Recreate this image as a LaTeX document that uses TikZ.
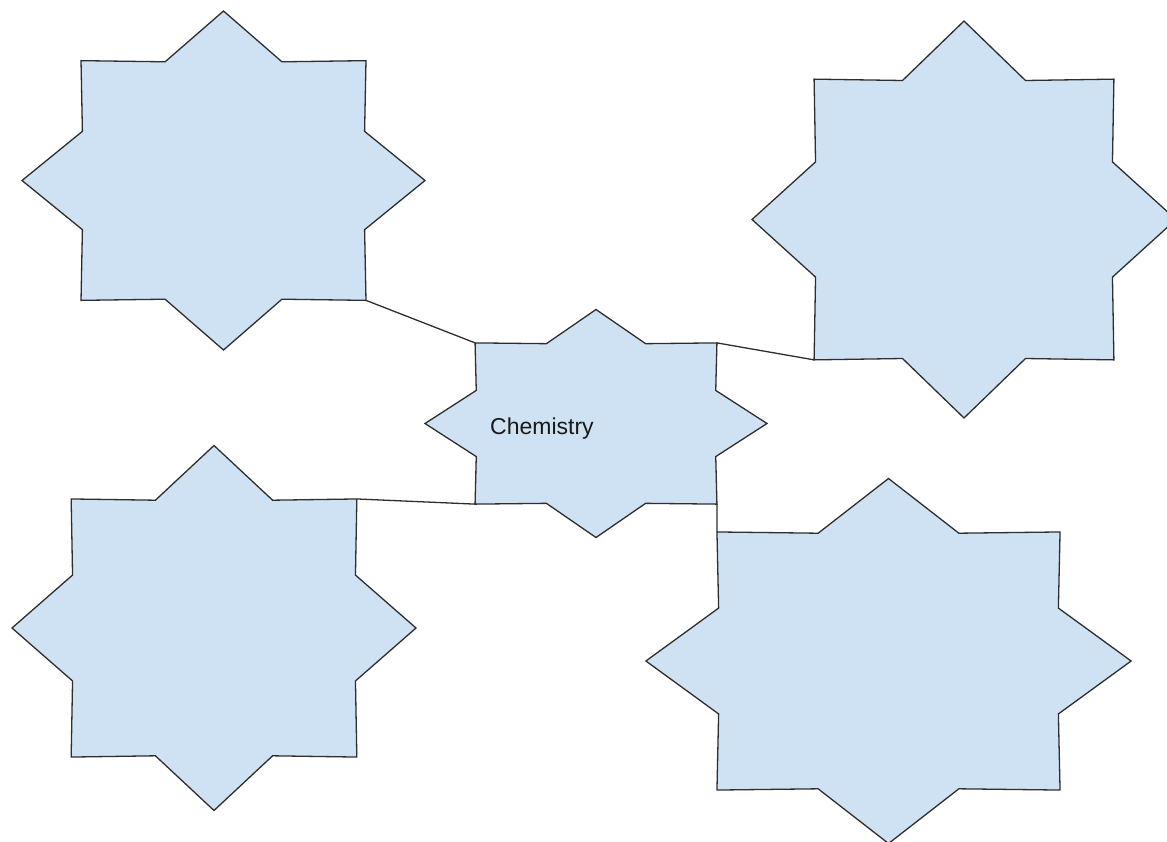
\documentclass[tikz,border=0pt]{standalone}
\usepackage{fontspec}
\setmainfont{Liberation Sans}
\definecolor{starfill}{HTML}{CFE2F3}
\definecolor{starline}{HTML}{2E2E2E}
\tikzset{
  starstyle/.style={fill=starfill, draw=starline, line width=1.3pt, line join=miter},
  linkstyle/.style={draw=starline, line width=1.3pt},
  labelstyle/.style={inner sep=0pt, font=\fontsize{23}{27}\selectfont, text=black!90}
}
% #1 name, #2 cx, #3 cy, #4 half width, #5 half height
\newcommand{\eightstar}[5]{%
  \draw[starstyle] ({#2+#4},{#3})
    \foreach \k in {0,...,6}{
      -- ({#2+0.758*#4*cos(45*\k+22.5)},{#3+0.758*#5*sin(45*\k+22.5)})
      -- ({#2+#4*cos(45*\k+45)},{#3+#5*sin(45*\k+45)})
    }
    -- ({#2+0.758*#4*cos(337.5)},{#3+0.758*#5*sin(337.5)}) -- cycle;
  \coordinate (#1) at (#2,#3);
  \coordinate (#1-ne) at ({#2+0.7071*#4},{#3-0.7071*#5});
  \coordinate (#1-nw) at ({#2-0.7071*#4},{#3-0.7071*#5});
  \coordinate (#1-se) at ({#2+0.7071*#4},{#3+0.7071*#5});
  \coordinate (#1-sw) at ({#2-0.7071*#4},{#3+0.7071*#5});
}
\begin{document}
\begin{tikzpicture}[x=1pt,y=-1pt]
  \useasboundingbox (0,0) rectangle (1167,841);
  \begin{scope}
  \clip (0,0) rectangle (1167,841);
  \eightstar{s1}{223.5}{180.5}{201.5}{169.5}
  \eightstar{s2}{964}{219.5}{212}{198.5}
  \eightstar{s3}{596}{423.5}{171}{114}
  \eightstar{s4}{214}{628}{202}{182.5}
  \eightstar{s5}{888.5}{661}{242.6}{182.5}
  \node[labelstyle, anchor=base west] (chem) at (490,434) {Chemistry};
  \draw[linkstyle] (s1-se) -- (s3-nw);
  \draw[linkstyle] (s3-ne) -- (s2-sw);
  \draw[linkstyle] (s4-ne) -- (s3-sw);
  \draw[linkstyle] (s3-se) -- (s5-nw);
  \end{scope}
\end{tikzpicture}
\end{document}
